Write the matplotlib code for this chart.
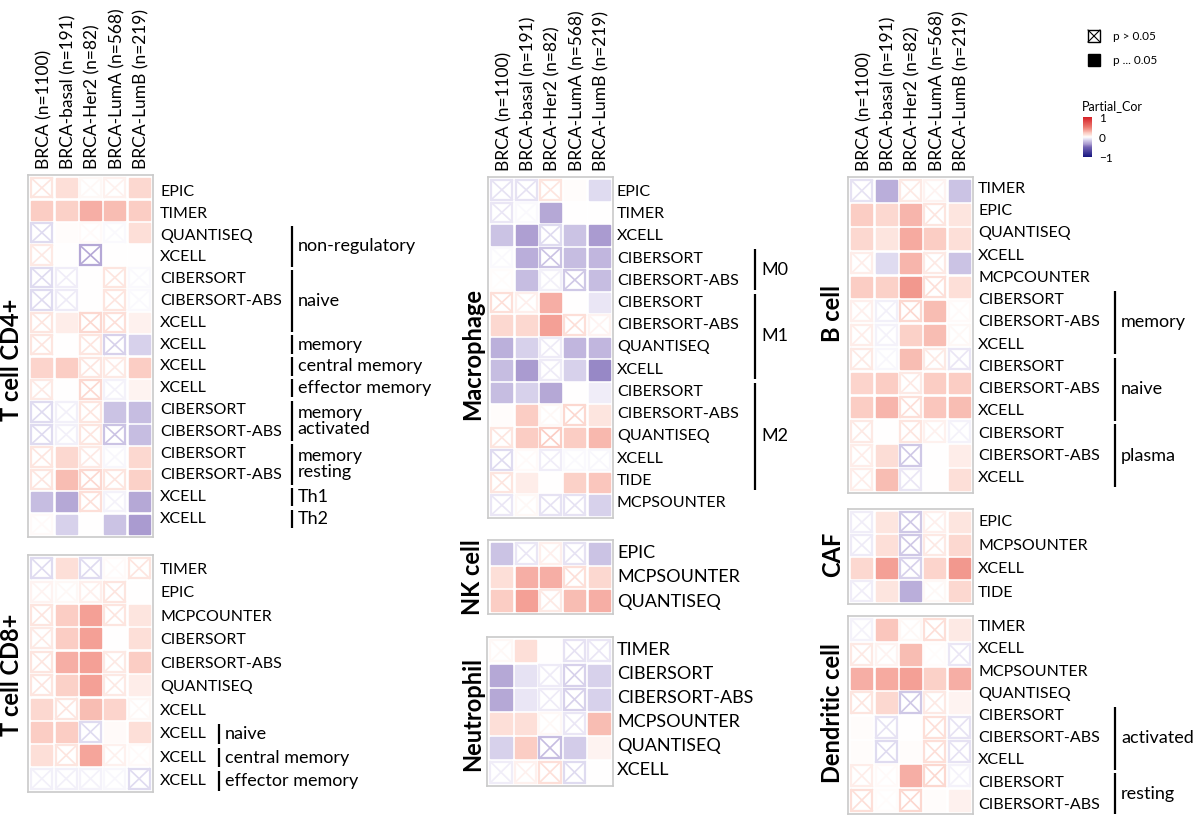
import matplotlib
matplotlib.use('Agg')
import matplotlib.pyplot as plt
import matplotlib as mpl
from matplotlib.colors import LinearSegmentedColormap, Normalize
from matplotlib.patches import Rectangle

plt.rcParams['font.family'] = ['Lato', 'DejaVu Sans']

# ---------------- data ----------------
columns = ['BRCA (n=1100)', 'BRCA-basal (n=191)', 'BRCA-Her2 (n=82)',
           'BRCA-LumA (n=568)', 'BRCA-LumB (n=219)']

cd4_labels = ['EPIC', 'TIMER', 'QUANTISEQ', 'XCELL', 'CIBERSORT', 'CIBERSORT-ABS', 'XCELL',
              'XCELL', 'XCELL', 'XCELL', 'CIBERSORT', 'CIBERSORT-ABS', 'CIBERSORT',
              'CIBERSORT-ABS', 'XCELL', 'XCELL']
cd4_values = [
    [0.10, 0.12, 0.03, 0.05, 0.15],
    [0.20, 0.18, 0.30, 0.25, 0.20],
    [-0.12, 0.01, 0.02, -0.02, 0.12],
    [0.08, 0.00, -0.30, 0.00, 0.00],
    [-0.12, -0.06, 0.00, 0.10, -0.02],
    [-0.12, -0.07, 0.00, 0.10, -0.02],
    [0.10, 0.07, 0.15, 0.12, 0.05],
    [0.10, 0.00, 0.10, -0.15, -0.15],
    [0.17, 0.20, 0.10, 0.08, 0.20],
    [0.08, 0.00, 0.15, -0.04, 0.04],
    [-0.12, -0.05, 0.10, -0.20, -0.22],
    [-0.12, -0.05, 0.10, -0.20, -0.22],
    [0.10, 0.15, 0.08, -0.03, 0.15],
    [0.10, 0.25, 0.15, 0.10, 0.18],
    [-0.22, -0.30, 0.12, -0.04, -0.30],
    [0.02, -0.15, 0.00, -0.20, -0.35],
]
cd4_sig = [
    [0, 1, 0, 0, 1], [1, 1, 1, 1, 1], [0, 1, 0, 0, 1], [0, 1, 0, 1, 1],
    [0, 0, 1, 0, 0], [0, 0, 1, 0, 0], [0, 1, 0, 0, 1], [0, 1, 0, 0, 1],
    [1, 1, 0, 0, 1], [0, 1, 0, 0, 1], [0, 0, 0, 1, 1], [0, 0, 0, 0, 1],
    [0, 1, 0, 0, 1], [0, 1, 0, 0, 1], [1, 1, 0, 0, 1], [0, 1, 1, 1, 1],
]
cd4_groups = [(2, 3, 'non-regulatory'), (4, 6, 'naive'), (7, 7, 'memory'),
              (8, 8, 'central memory'), (9, 9, 'effector memory'),
              (10, 11, 'memory\nactivated'), (12, 13, 'memory\nresting'),
              (14, 14, 'Th1'), (15, 15, 'Th2')]

cd8_labels = ['TIMER', 'EPIC', 'MCPCOUNTER', 'CIBERSORT', 'CIBERSORT-ABS', 'QUANTISEQ',
              'XCELL', 'XCELL', 'XCELL', 'XCELL']
cd8_values = [
    [-0.12, 0.12, -0.12, 0.02, 0.10],
    [0.04, 0.03, 0.06, 0.10, 0.00],
    [0.10, 0.20, 0.35, 0.10, 0.10],
    [0.08, 0.20, 0.35, 0.00, 0.12],
    [0.10, 0.30, 0.35, 0.08, 0.20],
    [0.10, 0.18, 0.35, 0.08, 0.07],
    [0.15, 0.10, 0.25, 0.17, 0.03],
    [0.20, 0.20, -0.12, 0.02, 0.12],
    [0.12, 0.10, 0.33, 0.05, 0.02],
    [-0.05, -0.05, -0.04, -0.03, -0.12],
]
cd8_sig = [
    [0, 1, 0, 0, 0], [0, 0, 0, 0, 1], [0, 1, 1, 0, 1], [0, 1, 1, 1, 1],
    [0, 1, 1, 0, 1], [0, 1, 1, 0, 1], [1, 0, 1, 1, 0], [1, 1, 0, 1, 1],
    [1, 0, 1, 0, 0], [0, 0, 0, 0, 0],
]
cd8_groups = [(7, 7, 'naive'), (8, 8, 'central memory'), (9, 9, 'effector memory')]

mac_labels = ['EPIC', 'TIMER', 'XCELL', 'CIBERSORT', 'CIBERSORT-ABS', 'CIBERSORT',
              'CIBERSORT-ABS', 'QUANTISEQ', 'XCELL', 'CIBERSORT', 'CIBERSORT-ABS',
              'QUANTISEQ', 'XCELL', 'TIDE', 'MCPSOUNTER']
mac_values = [
    [-0.10, -0.10, 0.10, 0.01, -0.12],
    [-0.08, -0.02, -0.30, 0.00, 0.00],
    [-0.20, -0.33, -0.12, -0.20, -0.35],
    [-0.02, -0.28, -0.20, -0.22, -0.25],
    [0.01, -0.22, -0.05, -0.18, -0.22],
    [0.12, 0.06, 0.30, 0.00, -0.08],
    [0.15, 0.15, 0.35, 0.12, 0.04],
    [-0.27, -0.15, -0.07, -0.25, -0.25],
    [-0.22, -0.35, -0.07, -0.15, -0.40],
    [-0.22, -0.15, -0.30, 0.00, -0.06],
    [0.01, 0.20, 0.03, 0.15, 0.10],
    [0.10, 0.20, 0.20, 0.20, 0.27],
    [-0.12, 0.02, -0.06, -0.02, -0.03],
    [0.10, 0.07, 0.00, 0.18, 0.22],
    [-0.08, 0.03, -0.10, -0.10, -0.15],
]
mac_sig = [
    [0, 0, 0, 1, 1], [0, 0, 1, 1, 1], [1, 1, 0, 1, 1], [0, 1, 0, 1, 1],
    [0, 1, 0, 0, 1], [0, 0, 1, 1, 1], [1, 1, 1, 0, 0], [1, 1, 0, 1, 1],
    [1, 1, 0, 1, 1], [1, 1, 1, 1, 1], [1, 1, 0, 0, 1], [0, 1, 0, 1, 1],
    [0, 0, 0, 0, 0], [0, 1, 1, 1, 1], [0, 0, 0, 0, 1],
]
mac_groups = [(3, 4, 'M0'), (5, 8, 'M1'), (9, 13, 'M2')]

nk_labels = ['EPIC', 'MCPSOUNTER', 'QUANTISEQ']
nk_values = [
    [-0.20, -0.08, 0.06, -0.10, -0.20],
    [0.12, 0.30, 0.30, 0.12, 0.15],
    [0.20, 0.35, 0.08, 0.25, 0.30],
]
nk_sig = [[1, 0, 0, 0, 1], [1, 1, 1, 0, 1], [1, 1, 0, 1, 1]]

neu_labels = ['TIMER', 'CIBERSORT', 'CIBERSORT-ABS', 'MCPSOUNTER', 'QUANTISEQ', 'XCELL']
neu_values = [
    [0.03, 0.12, 0.00, -0.10, -0.08],
    [-0.30, -0.10, -0.07, -0.15, -0.15],
    [-0.30, -0.08, -0.07, -0.15, -0.15],
    [0.12, 0.12, 0.03, -0.08, 0.25],
    [-0.15, 0.20, -0.22, -0.17, 0.04],
    [-0.06, 0.05, 0.12, -0.12, 0.00],
]
neu_sig = [[0, 1, 1, 0, 0], [1, 1, 0, 0, 1], [1, 1, 0, 0, 1],
           [1, 1, 0, 0, 1], [1, 1, 0, 1, 1], [0, 0, 0, 0, 1]]

bc_labels = ['TIMER', 'EPIC', 'QUANTISEQ', 'XCELL', 'MCPCOUNTER', 'CIBERSORT',
             'CIBERSORT-ABS', 'XCELL', 'CIBERSORT', 'CIBERSORT-ABS', 'XCELL',
             'CIBERSORT', 'CIBERSORT-ABS', 'XCELL']
bc_values = [
    [-0.10, -0.28, 0.08, 0.04, -0.20],
    [0.20, 0.15, 0.28, 0.10, 0.10],
    [0.15, 0.10, 0.32, 0.20, 0.12],
    [0.07, -0.12, 0.28, 0.08, -0.20],
    [0.20, 0.18, 0.38, 0.12, 0.12],
    [0.06, -0.05, 0.15, 0.25, 0.02],
    [0.07, -0.04, 0.18, 0.25, 0.03],
    [0.08, -0.03, 0.25, 0.08, -0.08],
    [0.17, 0.20, 0.08, 0.20, 0.20],
    [0.20, 0.28, 0.12, 0.22, 0.25],
    [0.08, 0.00, 0.10, 0.05, -0.04],
    [0.07, 0.13, -0.18, 0.00, 0.07],
    [0.07, 0.25, -0.08, 0.00, 0.12],
]
bc_sig = [
    [0, 1, 0, 0, 1], [1, 1, 1, 0, 1], [1, 1, 1, 1, 1], [0, 1, 1, 0, 1],
    [1, 1, 1, 0, 1], [0, 0, 0, 1, 0], [0, 0, 1, 1, 0], [0, 0, 1, 0, 0],
    [1, 1, 0, 1, 1], [1, 1, 0, 1, 1], [0, 1, 0, 0, 0], [0, 1, 0, 1, 1],
    [0, 1, 0, 1, 1],
]
bc_groups = [(5, 7, 'memory'), (8, 10, 'naive'), (11, 13, 'plasma')]

caf_labels = ['EPIC', 'MCPSOUNTER', 'XCELL', 'TIDE']
caf_values = [
    [-0.06, 0.10, -0.18, 0.06, 0.10],
    [-0.07, 0.12, -0.18, 0.08, 0.15],
    [0.15, 0.35, -0.15, 0.17, 0.38],
    [-0.06, 0.10, -0.28, 0.03, 0.15],
]
caf_sig = [[0, 1, 0, 0, 1], [0, 1, 0, 0, 1], [1, 1, 0, 1, 1], [0, 1, 1, 0, 1]]

dc_labels = ['TIMER', 'XCELL', 'MCPSOUNTER', 'QUANTISEQ', 'CIBERSORT', 'CIBERSORT-ABS',
             'XCELL', 'CIBERSORT', 'CIBERSORT-ABS']
dc_values = [
    [-0.04, 0.22, 0.03, 0.12, 0.08],
    [0.08, 0.04, 0.25, 0.01, -0.08],
    [0.30, 0.32, 0.35, 0.18, 0.30],
    [0.10, 0.15, -0.18, 0.08, 0.04],
    [0.01, -0.10, 0.00, 0.12, -0.10],
    [0.01, -0.12, 0.01, 0.12, -0.10],
    [0.07, 0.02, 0.30, 0.15, -0.04],
    [0.12, 0.01, 0.15, 0.01, 0.05],
]
dc_sig = [
    [0, 1, 0, 0, 1], [0, 0, 1, 0, 0], [1, 1, 1, 1, 1], [0, 1, 0, 0, 1],
    [1, 0, 1, 0, 0], [1, 0, 1, 0, 0], [0, 0, 1, 0, 0], [0, 0, 0, 1, 1],
]
dc_groups = [(4, 6, 'activated'), (7, 8, 'resting')]

# ---------------- figure ----------------
W, H = 1200, 818
fig = plt.figure(figsize=(12, 8.18), dpi=100)


def fx(x):
    return x / W


def fy(y):
    return 1 - y / H


cmap = LinearSegmentedColormap.from_list('pc', [
    (0.0, '#15157f'), (0.25, '#7565b4'), (0.325, '#aa9bd0'), (0.4, '#cbc3e4'),
    (0.45, '#e5e1f3'), (0.5, '#ffffff'), (0.55, '#fde4de'), (0.6, '#fbcdc4'),
    (0.675, '#f4a096'), (0.75, '#ec7a70'), (1.0, '#d51f26')])
norm = Normalize(-1, 1)

overlay = fig.add_axes([0, 0, 1, 1], facecolor='none', zorder=5)
overlay.set_xlim(0, W)
overlay.set_ylim(H, 0)
overlay.axis('off')


def draw_panel(box, values, sig, labels, label_span, label_size, label_x,
               title, title_pos, groups=(), group_x=None, headers=False):
    x0, y0, x1, y1 = box
    ax = fig.add_axes([fx(x0), fy(y1), fx(x1) - fx(x0), fy(y0) - fy(y1)])
    n = len(values)
    m = 0.07
    ax.set_xlim(-m, 5 + m)
    ax.set_ylim(n + m, -m)
    ax.set_xticks([])
    ax.set_yticks([])
    for s in ax.spines.values():
        s.set_edgecolor('#cacaca')
        s.set_linewidth(1.2)
    pad = 0.07
    for i, row in enumerate(values):
        for j, v in enumerate(row):
            c = cmap(norm(v))
            if sig[i][j]:
                ax.add_patch(Rectangle((j + pad, i + pad), 1 - 2 * pad, 1 - 2 * pad,
                                       facecolor=c, edgecolor=c, lw=1))
            else:
                ax.add_patch(Rectangle((j + pad, i + pad), 1 - 2 * pad, 1 - 2 * pad,
                                       facecolor='white', edgecolor=c, lw=1.6))
                ax.plot([j + pad, j + 1 - pad], [i + pad, i + 1 - pad], color=c, lw=1.2)
                ax.plot([j + pad, j + 1 - pad], [i + 1 - pad, i + pad], color=c, lw=1.2)
    if headers:
        for j, name in enumerate(columns):
            ax.annotate(name, xy=(j + 0.5, 1), xycoords=('data', 'axes fraction'),
                        xytext=(1.5, 4), textcoords='offset points', rotation=90,
                        ha='center', va='bottom', fontsize=12.5)
    ly0, ly1 = label_span
    nl = len(labels)
    p = (ly1 - ly0) / (nl - 1)
    ys = [ly0 + k * p for k in range(nl)]
    for k, lab in enumerate(labels):
        overlay.text(label_x, ys[k], lab, ha='left', va='center', fontsize=label_size)
    overlay.text(title_pos[0], title_pos[1], title, rotation=90, ha='center', va='center',
                 fontsize=17, fontweight='bold')
    for a, b, txt in groups:
        top = ys[a] - 0.42 * p
        bot = ys[b] + 0.42 * p
        overlay.plot([group_x, group_x], [top, bot], color='black', lw=1.6,
                     solid_capstyle='butt')
        overlay.text(group_x + 6, (top + bot) / 2, txt, ha='left', va='center',
                     fontsize=13, linespacing=1.0)
    return ax


draw_panel((28, 175, 153, 537), cd4_values, cd4_sig, cd4_labels, (192, 519), 11.5, 160,
           'T cell CD4+', (12, 360), cd4_groups, 291.5, headers=True)
draw_panel((28, 555, 153, 792), cd8_values, cd8_sig, cd8_labels, (570, 781), 11.5, 160,
           'T cell CD8+', (12, 675), cd8_groups, 219)
draw_panel((488, 177, 613, 518), mac_values, mac_sig, mac_labels, (192, 503), 11.5, 617,
           'Macrophage', (473, 354), mac_groups, 755, headers=True)
draw_panel((488, 540, 613, 614), nk_values, nk_sig, nk_labels, (553, 602), 13, 617,
           'NK cell', (473, 577))
draw_panel((487, 637, 613, 786), neu_values, neu_sig, neu_labels, (650, 770), 13, 617,
           'Neutrophil', (473, 714))
draw_panel((848, 177, 973, 493), bc_values, bc_sig, bc_labels, (189, 478), 11.5, 978,
           'B cell', (833, 314), bc_groups, 1115, headers=True)
draw_panel((848, 509, 973, 604), caf_values, caf_sig, caf_labels, (522, 593), 11.5, 978,
           'CAF', (833, 554))
draw_panel((848, 616, 973, 814), dc_values, dc_sig, dc_labels, (627, 805), 11.5, 978,
           'Dendritic cell', (833, 713), dc_groups, 1115)

# ---------------- legend ----------------
overlay.add_patch(Rectangle((1088, 30), 12, 12, facecolor='white', edgecolor='black', lw=1))
overlay.plot([1088, 1100], [30, 42], color='black', lw=0.8)
overlay.plot([1088, 1100], [42, 30], color='black', lw=0.8)
overlay.text(1113, 36, 'p > 0.05', ha='left', va='center', fontsize=8.5)
overlay.add_patch(Rectangle((1088, 54), 12, 12, facecolor='black', edgecolor='black', lw=1))
overlay.text(1113, 60, 'p ... 0.05', ha='left', va='center', fontsize=8.5)
overlay.text(1082, 106, 'Partial_Cor', ha='left', va='center', fontsize=9)

cax = fig.add_axes([fx(1083), fy(157), fx(1092) - fx(1083), fy(117) - fy(157)])
cb = mpl.colorbar.ColorbarBase(cax, cmap=cmap, norm=norm, ticks=[-1, 0, 1])
cb.outline.set_visible(False)
cb.ax.set_yticklabels(['\u22121', '0', '1'])
cb.ax.tick_params(length=3, width=0.8, color='white', labelsize=8.5, pad=2)

fig.savefig('out.png', dpi=100)
